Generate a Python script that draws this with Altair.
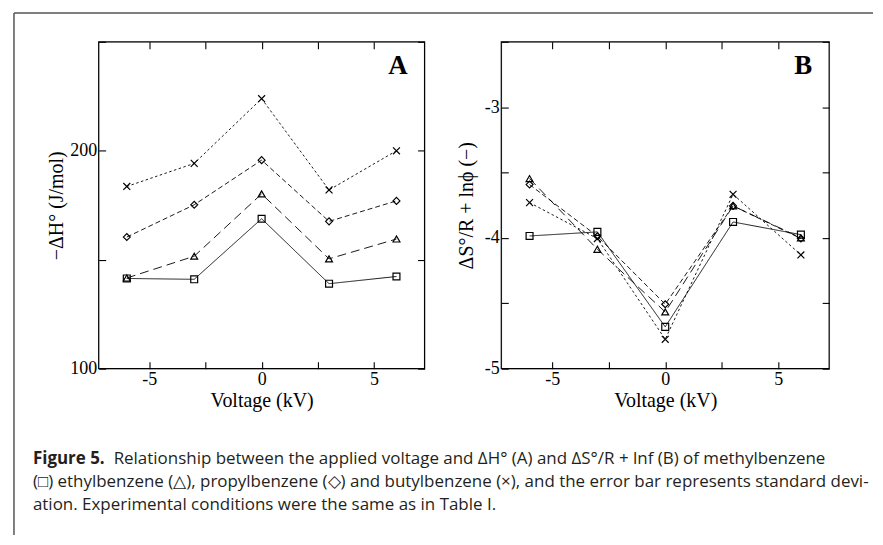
import altair as alt
import pandas as pd

# ---------------- data ----------------
voltage = [-6, -3, 0, 3, 6]
series = ["methylbenzene", "ethylbenzene", "propylbenzene", "butylbenzene"]

# Panel A: -dH (J/mol)
dH_methyl = [141.4, 141.0, 168.8, 139.0, 142.3]
dH_ethyl = [141.6, 151.6, 180.2, 150.4, 159.5]
dH_propyl = [160.4, 175.2, 195.7, 167.6, 177.0]
dH_butyl = [183.6, 194.2, 223.9, 182.0, 200.0]

# Panel B: dS/R + ln(phi)
dS_methyl = [-3.985, -3.954, -4.68, -3.878, -3.975]
dS_ethyl = [-3.546, -4.087, -4.566, -3.755, -4.0]
dS_propyl = [-3.592, -3.987, -4.507, -3.755, -4.005]
dS_butyl = [-3.73, -4.005, -4.775, -3.666, -4.13]

x_ticks = [-5, -2.5, 0, 2.5, 5]
yA_ticks = [100, 150, 200, 250]
yB_ticks = [-5, -4.5, -4, -3.5, -3, -2.5]

caption_bold = "Figure 5."
caption_l1 = "Relationship between the applied voltage and \u0394H\u00b0 (A) and \u0394S\u00b0/R + lnf (B) of methylbenzene"
caption_l2 = "(\u25a1) ethylbenzene (\u25b3), propylbenzene (\u25c7) and butylbenzene (\u00d7), and the error bar represents standard devi-"
caption_l3 = "ation. Experimental conditions were the same as in Table I."


def long_df(lists):
    rows = []
    for name, vals in zip(series, lists):
        for v, y in zip(voltage, vals):
            rows.append({"series": name, "voltage": v, "value": y})
    return pd.DataFrame(rows)


dfA = long_df([dH_methyl, dH_ethyl, dH_propyl, dH_butyl])
dfB = long_df([dS_methyl, dS_ethyl, dS_propyl, dS_butyl])

SERIF = "Liberation Serif"
SANS = "Open Sans"
CROSS = "M-1,-1L1,1M-1,1L1,-1"

shape_scale = alt.Scale(domain=series, range=["square", "triangle-up", "diamond", CROSS])
dash_scale = alt.Scale(domain=series, range=[[1, 0], [9, 5], [5, 3], [2.5, 2.5]])

W_A, W_B, H = 327, 329, 328
TICK = 7

# integer labels with a plain hyphen for negatives
INT_LABEL = "(datum.value < 0 ? '-' : '') + format(abs(datum.value), 'd')"
XLABEL = "abs(datum.value % 5) < 0.001 ? " + INT_LABEL + " : ''"
YA_LABEL = "datum.value % 100 == 0 ? " + INT_LABEL + " : ''"
YB_LABEL = "abs(datum.value % 1) < 0.001 ? " + INT_LABEL + " : ''"


def axis_main(orient, values, label_expr, title, title_pad):
    return alt.Axis(
        orient=orient, values=values, labelExpr=label_expr, title=title,
        domain=False, ticks=True, tickSize=TICK, offset=-TICK, tickColor="black",
        tickWidth=1.1, labelFont=SERIF, labelFontSize=18, labelColor="black",
        labelPadding=2, labelOverlap=False, grid=False,
        titleFont=SERIF, titleFontSize=20, titleFontWeight="normal",
        titleColor="black", titlePadding=title_pad,
    )


def axis_mirror(orient, values):
    return alt.Axis(
        orient=orient, values=values, labels=False, title=None,
        domain=False, ticks=True, tickSize=TICK, offset=-TICK, tickColor="black",
        tickWidth=1.1, grid=False,
    )


one = alt.Data(values=[{}])


def cap(text, x, y, bold=False):
    return alt.Chart(one).mark_text(
        text=text, font=SANS, fontSize=17, align="left", baseline="alphabetic",
        color="#231f20", fontWeight="bold" if bold else "normal",
    ).encode(x=alt.value(x), y=alt.value(y))


def panel(df, width, ydomain, yvals, ylabel_expr, ytitle, ytitle_pad, letter, extra=()):
    xs = alt.Scale(domain=[-7.25, 7.25], nice=False, zero=False)
    ys = alt.Scale(domain=ydomain, nice=False, zero=False)
    base = alt.Chart(df)
    lines = base.mark_line(color="black", strokeWidth=0.9).encode(
        x=alt.X("voltage:Q", scale=xs,
                axis=axis_main("bottom", x_ticks, XLABEL, "Voltage (kV)", 2)),
        y=alt.Y("value:Q", scale=ys,
                axis=axis_main("left", yvals, ylabel_expr, ytitle, ytitle_pad)),
        detail="series:N",
        strokeDash=alt.StrokeDash("series:N", scale=dash_scale, legend=None),
    )
    pts = base.mark_point(filled=False, color="black", strokeWidth=1.2, size=48, opacity=1).encode(
        x=alt.X("voltage:Q", scale=xs, axis=axis_mirror("top", x_ticks)),
        y=alt.Y("value:Q", scale=ys, axis=axis_mirror("right", yvals)),
        shape=alt.Shape("series:N", scale=shape_scale, legend=None),
    )
    frame = alt.Chart(one).mark_rect(
        fillOpacity=0, stroke="black", strokeWidth=1.2
    ).encode(x=alt.value(0), x2=alt.value(width), y=alt.value(0), y2=alt.value(H))
    lab = alt.Chart(one).mark_text(
        text=letter, font=SERIF, fontWeight="bold", fontSize=27,
        align="right", baseline="alphabetic", color="black",
    ).encode(x=alt.value(width - 17), y=alt.value(32))
    return alt.layer(lines, pts, frame, lab, *extra).resolve_axis(
        x="independent", y="independent"
    ).properties(width=width, height=H)


# decorations / caption drawn relative to panel A's plot area
frame_top = alt.Chart(one).mark_rule(color="#555555", strokeWidth=1.5).encode(
    x=alt.value(-85), x2=alt.value(777), y=alt.value(-29))
frame_left = alt.Chart(one).mark_rule(color="#555555", strokeWidth=1.5).encode(
    x=alt.value(-85), y=alt.value(-29), y2=alt.value(495))

extrasA = (
    frame_top, frame_left,
    cap(caption_bold, -66, 424, bold=True),
    cap(caption_l1, 15, 424),
    cap(caption_l2, -66, 447),
    cap(caption_l3, -66, 470),
)

panelA = panel(dfA, W_A, [100, 250], yA_ticks, YA_LABEL,
               "\u2212\u0394H\u00b0 (J/mol)", 3, "A", extrasA)

panelB = panel(dfB, W_B, [-5, -2.5], yB_ticks, YB_LABEL,
               "\u0394S\u00b0/R + ln\u03d5 (\u2212)", 8, "B")

chart = alt.hconcat(panelA, panelB, spacing=77, bounds="flush").properties(
    padding={"left": 4, "top": 2, "right": 0, "bottom": 0},
).configure(background="white")

chart.save("out.html", embed_options={"renderer": "svg", "actions": False})
